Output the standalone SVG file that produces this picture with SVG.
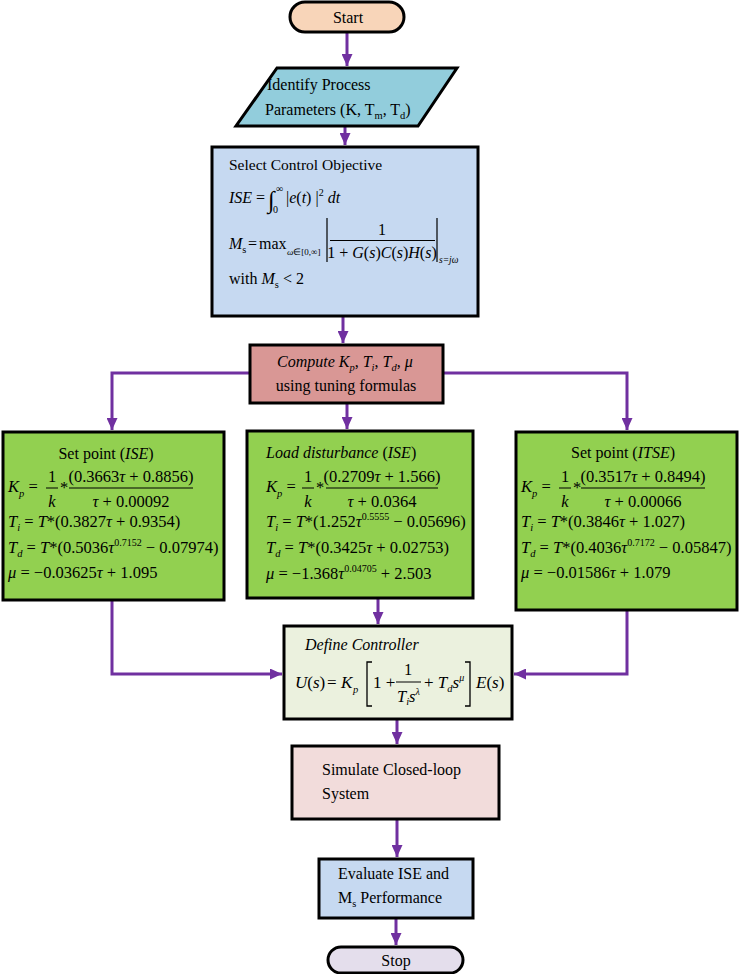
<svg xmlns="http://www.w3.org/2000/svg" width="739" height="974" viewBox="0 0 739 974">
<defs>
<style>
.b{stroke:#000;stroke-width:3}
.t{font-family:"Liberation Serif","Times New Roman",serif;font-size:16px;fill:#000}
.f{font-family:"Liberation Serif","Times New Roman",serif;font-size:16.5px;fill:#000}
.i{font-style:italic}
.sb{font-size:10.5px}
.sp{font-size:10px}
.c{stroke:#7030A0;stroke-width:3;fill:none}
.fl{stroke:#000;stroke-width:1;fill:none}
</style>
<marker id="ar" markerUnits="userSpaceOnUse" markerWidth="12" markerHeight="11" refX="12" refY="5.5" orient="auto">
<path d="M0,0 L12,5.5 L0,11 z" fill="#7030A0"/>
</marker>
</defs>
<rect width="739" height="974" fill="#fff"/>

<g id="connectors">
<path class="c" d="M347,32 V66" marker-end="url(#ar)"/>
<path class="c" d="M345,126 V145" marker-end="url(#ar)"/>
<path class="c" d="M343,316 V343" marker-end="url(#ar)"/>
<path class="c" d="M250,373 H112 V430" marker-end="url(#ar)"/>
<path class="c" d="M347,403 V429" marker-end="url(#ar)"/>
<path class="c" d="M443,373 H627 V430" marker-end="url(#ar)"/>
<path class="c" d="M112,600 V674 H282" marker-end="url(#ar)"/>
<path class="c" d="M378,598 V624" marker-end="url(#ar)"/>
<path class="c" d="M627,610 V674 H514" marker-end="url(#ar)"/>
<path class="c" d="M397,719 V744" marker-end="url(#ar)"/>
<path class="c" d="M397,819 V857" marker-end="url(#ar)"/>
<path class="c" d="M396,918 V945" marker-end="url(#ar)"/>
</g>

<g id="start">
<rect class="b" x="290" y="2" width="114" height="30" rx="15" fill="#F8D5B9"/>
<text class="t" x="348" y="23" text-anchor="middle">Start</text>
</g>

<g id="identify">
<polygon class="b" points="277,68 457,68 418,126 236,126" fill="#92CDDC"/>
<text class="t" x="267" y="90">Identify Process</text>
<text class="t" x="265" y="115">Parameters (K, T<tspan class="sb" dy="4">m</tspan><tspan dy="-4">, T</tspan><tspan class="sb" dy="4">d</tspan><tspan dy="-4">)</tspan></text>
</g>

<g id="objective">
<rect class="b" x="212" y="147" width="266" height="169" fill="#C6D9F1"/>
<text class="t" x="229" y="170" style="font-size:15.5px">Select Control Objective</text>
<text class="t" x="229" y="203"><tspan class="i">ISE</tspan> =</text>
<text class="t" x="268" y="208" style="font-size:24px">∫</text>
<text class="t" x="276" y="192" style="font-size:10px">∞</text>
<text class="t" x="273" y="213" style="font-size:10px">0</text>
<text class="t" x="286" y="203">|<tspan class="i">e</tspan>(<tspan class="i">t</tspan>) |<tspan class="sp" dy="-7">2</tspan><tspan dy="7">  </tspan><tspan class="i">dt</tspan></text>
<text class="t" x="229" y="249"><tspan class="i">M</tspan><tspan class="sb" dy="4">s</tspan></text>
<text class="t" x="248" y="249">=</text>
<text class="t" x="259" y="249">max</text>
<text class="t i" x="287" y="255" style="font-size:9px">ω<tspan font-style="normal">∈[0,∞]</tspan></text>
<path class="fl" d="M327,218 V262 M437,218 V262" style="stroke-width:1.2"/>
<text class="t" x="382" y="235" text-anchor="middle">1</text>
<path class="fl" d="M330,240.5 H435"/>
<text class="t" x="382" y="258" text-anchor="middle">1 + <tspan class="i">G</tspan>(<tspan class="i">s</tspan>)<tspan class="i">C</tspan>(<tspan class="i">s</tspan>)<tspan class="i">H</tspan>(<tspan class="i">s</tspan>)</text>
<text class="t i" x="439" y="263" style="font-size:9.5px">s=jω</text>
<text class="t" x="229" y="284">with <tspan class="i">M</tspan><tspan class="sb" dy="4">s</tspan><tspan dy="-4"> &lt; 2</tspan></text>
</g>

<g id="compute">
<rect class="b" x="250" y="345" width="193" height="58" fill="#D99795"/>
<text class="t" x="277" y="367"><tspan class="i">Compute K</tspan><tspan class="sb i" dy="4">p</tspan><tspan dy="-4">, </tspan><tspan class="i">T</tspan><tspan class="sb i" dy="4">i</tspan><tspan dy="-4">, </tspan><tspan class="i">T</tspan><tspan class="sb i" dy="4">d</tspan><tspan dy="-4">, </tspan><tspan class="i">μ</tspan></text>
<text class="t" x="346" y="391" text-anchor="middle">using tuning formulas</text>
</g>

<g id="setpoint-ise">
<rect class="b" x="3" y="432" width="221" height="168" fill="#92D050"/>
<text class="t" x="106" y="459" text-anchor="middle">Set point (<tspan class="i">ISE</tspan>)</text>
<text class="f" x="8" y="492"><tspan class="i">K</tspan><tspan class="sb i" dy="5">p</tspan><tspan dy="-5"> =</tspan></text>
<text class="f" x="52" y="482" text-anchor="middle">1</text>
<path class="fl" d="M46,488 H58"/>
<text class="f i" x="52" y="507" text-anchor="middle">k</text>
<text class="f" x="60" y="493">*</text>
<text class="f" x="131" y="482" text-anchor="middle">(0.3663<tspan class="i">τ</tspan> + 0.8856)</text>
<path class="fl" d="M69,488 H193"/>
<text class="f" x="131" y="507" text-anchor="middle"><tspan class="i">τ</tspan> + 0.00092</text>
<text class="f" x="8" y="527"><tspan class="i">T</tspan><tspan class="sb i" dy="4">i</tspan><tspan dy="-4"> = </tspan><tspan class="i">T</tspan>*(0.3827<tspan class="i">τ</tspan> + 0.9354)</text>
<text class="f" x="8" y="553"><tspan class="i">T</tspan><tspan class="sb i" dy="4">d</tspan><tspan dy="-4"> = </tspan><tspan class="i">T</tspan>*(0.5036<tspan class="i">τ</tspan><tspan class="sp" dy="-7">0.7152</tspan><tspan dy="7"> − 0.07974)</tspan></text>
<text class="f" x="8" y="578"><tspan class="i">μ</tspan> = −0.03625<tspan class="i">τ</tspan> + 1.095</text>
</g>

<g id="load-ise">
<rect class="b" x="247" y="431" width="226" height="167" fill="#92D050"/>
<text class="t" x="266" y="458"><tspan class="i">Load disturbance</tspan> (<tspan class="i">ISE</tspan>)</text>
<text class="f" x="266" y="492"><tspan class="i">K</tspan><tspan class="sb i" dy="5">p</tspan><tspan dy="-5"> =</tspan></text>
<text class="f" x="308" y="482" text-anchor="middle">1</text>
<path class="fl" d="M302,488 H314"/>
<text class="f i" x="308" y="507" text-anchor="middle">k</text>
<text class="f" x="316" y="493">*</text>
<text class="f" x="382" y="482" text-anchor="middle">(0.2709<tspan class="i">τ</tspan> + 1.566)</text>
<path class="fl" d="M326,488 H438"/>
<text class="f" x="382" y="507" text-anchor="middle"><tspan class="i">τ</tspan> + 0.0364</text>
<text class="f" x="266" y="527"><tspan class="i">T</tspan><tspan class="sb i" dy="4">i</tspan><tspan dy="-4"> = </tspan><tspan class="i">T</tspan>*(1.252<tspan class="i">τ</tspan><tspan class="sp" dy="-7">0.5555</tspan><tspan dy="7"> − 0.05696)</tspan></text>
<text class="f" x="266" y="553"><tspan class="i">T</tspan><tspan class="sb i" dy="4">d</tspan><tspan dy="-4"> = </tspan><tspan class="i">T</tspan>*(0.3425<tspan class="i">τ</tspan> + 0.02753)</text>
<text class="f" x="266" y="579"><tspan class="i">μ</tspan> = −1.368<tspan class="i">τ</tspan><tspan class="sp" dy="-7">0.04705</tspan><tspan dy="7"> + 2.503</tspan></text>
</g>

<g id="setpoint-itse">
<rect class="b" x="516" y="432" width="221" height="178" fill="#92D050"/>
<text class="t" x="623" y="458" text-anchor="middle">Set point (<tspan class="i">ITSE</tspan>)</text>
<text class="f" x="521" y="492"><tspan class="i">K</tspan><tspan class="sb i" dy="5">p</tspan><tspan dy="-5"> =</tspan></text>
<text class="f" x="565" y="482" text-anchor="middle">1</text>
<path class="fl" d="M559,488 H571"/>
<text class="f i" x="565" y="507" text-anchor="middle">k</text>
<text class="f" x="573" y="493">*</text>
<text class="f" x="643" y="482" text-anchor="middle">(0.3517<tspan class="i">τ</tspan> + 0.8494)</text>
<path class="fl" d="M581,488 H705"/>
<text class="f" x="643" y="507" text-anchor="middle"><tspan class="i">τ</tspan> + 0.00066</text>
<text class="f" x="521" y="527"><tspan class="i">T</tspan><tspan class="sb i" dy="4">i</tspan><tspan dy="-4"> = </tspan><tspan class="i">T</tspan>*(0.3846<tspan class="i">τ</tspan> + 1.027)</text>
<text class="f" x="521" y="553"><tspan class="i">T</tspan><tspan class="sb i" dy="4">d</tspan><tspan dy="-4"> = </tspan><tspan class="i">T</tspan>*(0.4036<tspan class="i">τ</tspan><tspan class="sp" dy="-7">0.7172</tspan><tspan dy="7"> − 0.05847)</tspan></text>
<text class="f" x="521" y="578"><tspan class="i">μ</tspan> = −0.01586<tspan class="i">τ</tspan> + 1.079</text>
</g>

<g id="define">
<rect class="b" x="284" y="626" width="228" height="93" fill="#EBF1DE"/>
<text class="t i" x="305" y="650">Define Controller</text>
<text class="f" x="295" y="688" style="font-size:17px"><tspan class="i">U</tspan>(<tspan class="i">s</tspan>)</text>
<text class="f" x="327" y="688" style="font-size:17px">=</text>
<text class="f i" x="341" y="688" style="font-size:17px">K</text>
<text class="f i" x="353" y="693" style="font-size:10.5px">p</text>
<path class="fl" d="M372,662 H367 V706 H372" style="stroke-width:1.3"/>
<text class="f" x="373" y="688" style="font-size:17px">1 +</text>
<text class="f" x="408" y="675" text-anchor="middle">1</text>
<path class="fl" d="M396,682 H421"/>
<text class="f" x="397" y="702"><tspan class="i">T</tspan><tspan class="sb i" dy="3">i</tspan><tspan class="i" dy="-3">s</tspan><tspan class="sp i" dy="-7">λ</tspan></text>
<text class="f" x="424" y="688" style="font-size:17px">+ <tspan class="i">T</tspan><tspan class="sb i" dy="4">d</tspan><tspan class="i" dy="-4">s</tspan><tspan class="sp i" dy="-7">μ</tspan></text>
<path class="fl" d="M465,662 H470 V706 H465" style="stroke-width:1.3"/>
<text class="f" x="476" y="688" style="font-size:17px"><tspan class="i">E</tspan>(<tspan class="i">s</tspan>)</text>
</g>

<g id="simulate">
<rect class="b" x="292" y="746" width="207" height="73" fill="#F2DCDB"/>
<text class="t" x="322" y="775">Simulate Closed-loop</text>
<text class="t" x="322" y="799">System</text>
</g>

<g id="evaluate">
<rect class="b" x="319" y="859" width="154" height="59" fill="#C6D9F1"/>
<text class="t" x="338" y="879">Evaluate ISE and</text>
<text class="t" x="338" y="903">M<tspan class="sb" dy="4">s</tspan><tspan dy="-4"> Performance</tspan></text>
</g>

<g id="stop">
<rect class="b" x="328" y="947" width="135" height="26" rx="13" fill="#E4DEEC"/>
<text class="t" x="396" y="966" text-anchor="middle">Stop</text>
</g>
</svg>
